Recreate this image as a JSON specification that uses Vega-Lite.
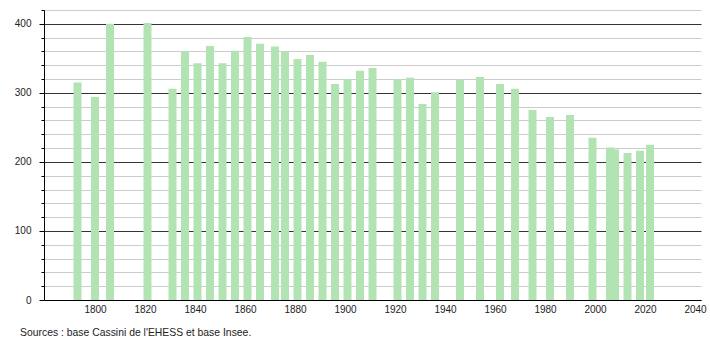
{
  "$schema": "https://vega.github.io/schema/vega-lite/v6.json",
  "width": 657,
  "height": 290,
  "autosize": "none",
  "padding": {"left": 44, "top": 10, "right": 9, "bottom": 40},
  "background": "white",
  "config": {
    "view": {"stroke": null},
    "font": "Liberation Sans",
    "axis": {"labelFont": "Liberation Sans", "labelColor": "#222", "labelFontSize": 10}
  },
  "title": {
    "text": "Sources : base Cassini de l'EHESS et base Insee.",
    "orient": "bottom",
    "anchor": "start",
    "frame": "group",
    "dx": -24,
    "offset": 14,
    "fontSize": 10.4,
    "fontWeight": "normal",
    "color": "#222",
    "font": "Liberation Sans"
  },
  "data": {
    "values": [
      {"year": 1793, "pop": 315},
      {"year": 1800, "pop": 294},
      {"year": 1806, "pop": 400},
      {"year": 1821, "pop": 401},
      {"year": 1831, "pop": 306},
      {"year": 1836, "pop": 360},
      {"year": 1841, "pop": 343},
      {"year": 1846, "pop": 368},
      {"year": 1851, "pop": 343},
      {"year": 1856, "pop": 361},
      {"year": 1861, "pop": 381},
      {"year": 1866, "pop": 371},
      {"year": 1872, "pop": 367},
      {"year": 1876, "pop": 359},
      {"year": 1881, "pop": 349},
      {"year": 1886, "pop": 355},
      {"year": 1891, "pop": 345},
      {"year": 1896, "pop": 313},
      {"year": 1901, "pop": 320},
      {"year": 1906, "pop": 332},
      {"year": 1911, "pop": 336},
      {"year": 1921, "pop": 320},
      {"year": 1926, "pop": 322},
      {"year": 1931, "pop": 284},
      {"year": 1936, "pop": 301},
      {"year": 1946, "pop": 319},
      {"year": 1954, "pop": 323},
      {"year": 1962, "pop": 313},
      {"year": 1968, "pop": 306},
      {"year": 1975, "pop": 275},
      {"year": 1982, "pop": 265},
      {"year": 1990, "pop": 268},
      {"year": 1999, "pop": 235},
      {"year": 2006, "pop": 221},
      {"year": 2008, "pop": 218},
      {"year": 2013, "pop": 213},
      {"year": 2018, "pop": 216},
      {"year": 2022, "pop": 225}
    ]
  },
  "mark": {"type": "bar", "width": 8, "color": "#b2e3b2"},
  "encoding": {
    "x": {
      "field": "year",
      "type": "quantitative",
      "scale": {"domain": [1779.6, 2042.4], "nice": false, "zero": false, "padding": 0},
      "axis": {
        "title": null,
        "values": [1800, 1820, 1840, 1860, 1880, 1900, 1920, 1940, 1960, 1980, 2000, 2020, 2040],
        "format": "d",
        "ticks": false,
        "grid": false,
        "domainColor": "#000",
        "domainWidth": 1,
        "labelPadding": 4,
        "labelFlush": false,
        "labelOverlap": false
      }
    },
    "y": {
      "field": "pop",
      "type": "quantitative",
      "scale": {"domain": [0, 420], "nice": false},
      "axis": {
        "title": null,
        "values": [0, 20, 40, 60, 80, 100, 120, 140, 160, 180, 200, 220, 240, 260, 280, 300, 320, 340, 360, 380, 400, 420],
        "labelExpr": "datum.value % 100 === 0 ? datum.label : ''",
        "grid": true,
        "gridColor": {"condition": {"test": "datum.value % 100 === 0", "value": "#333"}, "value": "#cccccc"},
        "gridWidth": 1,
        "tickSize": {"condition": {"test": "datum.value % 100 === 0", "value": 5}, "value": 3},
        "tickColor": "#000",
        "domainColor": "#000",
        "labelPadding": 8,
        "labelOverlap": false,
        "labelFlush": false
      }
    }
  }
}
